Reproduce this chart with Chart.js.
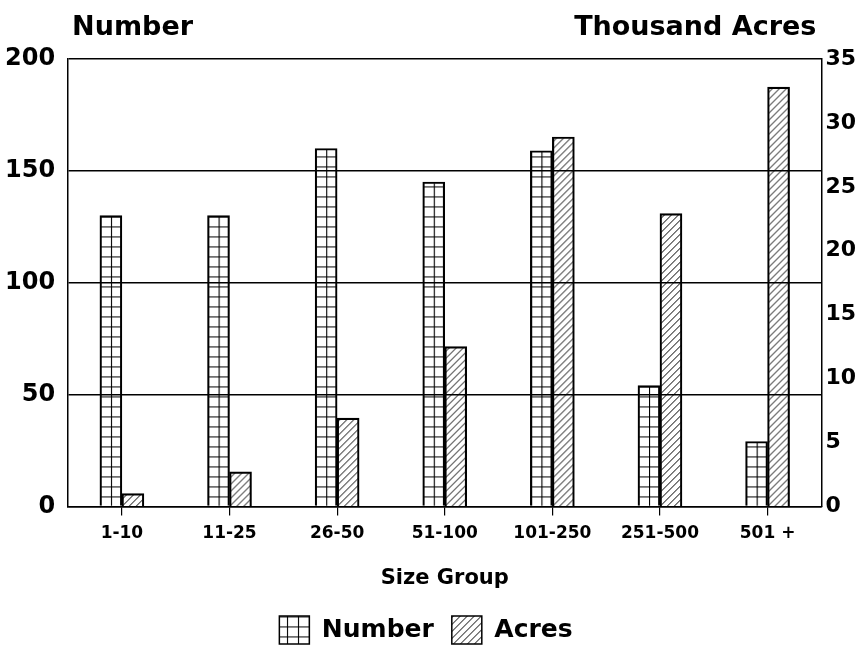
<!DOCTYPE html>
<html>
<head>
<meta charset="utf-8">
<script src="https://cdn.jsdelivr.net/npm/chart.js@4.4.1/dist/chart.umd.min.js"></script>
<style>
  html, body { margin: 0; padding: 0; background: #fff; }
  #wrap { width: 866px; height: 646px; }
</style>
</head>
<body>
<div id="wrap"><canvas id="chartFarms"></canvas></div>
<script>
const sizeGroups = ['1-10', '11-25', '26-50', '51-100', '101-250', '251-500', '501 +'];
const numberFarms = [130, 130, 160, 145, 159, 54, 29];
const thousandAcres = [1.0, 2.7, 6.9, 12.5, 28.9, 22.9, 32.8];
const numberTicks = [0, 50, 100, 150, 200];
const acresTicks = [0, 5, 10, 15, 20, 25, 30, 35];

const FONT = 'DejaVu Sans';
const BAR_W = 22;

// tiles for the two fill patterns
const gridTile = document.createElement('canvas');
gridTile.width = 11; gridTile.height = 10;
(function() {
  const g = gridTile.getContext('2d');
  g.strokeStyle = '#000';
  g.lineWidth = 1.2;
  g.beginPath();
  g.moveTo(0.5, 0); g.lineTo(0.5, 10);
  g.moveTo(0, 0.5); g.lineTo(11, 0.5);
  g.stroke();
})();

const hatchTile = document.createElement('canvas');
hatchTile.width = 7; hatchTile.height = 7;
(function() {
  const g = hatchTile.getContext('2d');
  g.strokeStyle = '#000';
  g.lineWidth = 1;
  g.beginPath();
  g.moveTo(0, 7); g.lineTo(7, 0);
  g.moveTo(-1, 1); g.lineTo(1, -1);
  g.moveTo(6, 8); g.lineTo(8, 6);
  g.stroke();
})();

function patternFor(tile, side) {
  return function(c) {
    const chart = c.chart;
    const pat = chart.ctx.createPattern(tile, 'repeat');
    if (c.type === 'data' && chart.scales.x && chart.chartArea) {
      const cx = chart.scales.x.getPixelForValue(c.dataIndex);
      const left = side === 0 ? cx - BAR_W : cx;
      pat.setTransform(new DOMMatrix().translate(left, chart.chartArea.bottom));
    }
    return pat;
  };
}

const headings = {
  id: 'headings',
  afterDraw(chart) {
    const ctx = chart.ctx;
    const a = chart.chartArea;
    ctx.save();
    ctx.fillStyle = '#000';
    ctx.font = 'bold 27px "' + FONT + '"';
    ctx.textBaseline = 'alphabetic';
    ctx.textAlign = 'left';
    ctx.fillText('Number', a.left + 4, 35);
    ctx.textAlign = 'right';
    ctx.fillText('Thousand Acres', a.right - 5, 35);
    ctx.restore();
  }
};

new Chart(document.getElementById('chartFarms'), {
  type: 'bar',
  data: {
    labels: sizeGroups,
    datasets: [{
      label: 'Number',
      data: numberFarms,
      yAxisID: 'y',
      backgroundColor: patternFor(gridTile, 0),
      borderColor: '#000',
      borderWidth: 1.5,
      barThickness: BAR_W
    }, {
      label: 'Acres',
      data: thousandAcres,
      yAxisID: 'y1',
      backgroundColor: patternFor(hatchTile, 1),
      borderColor: '#000',
      borderWidth: 1.5,
      barThickness: BAR_W
    }]
  },
  options: {
    responsive: true,
    maintainAspectRatio: false,
    animation: false,
    layout: { padding: { left: -8, right: 6, top: 59, bottom: -8 } },
    plugins: {
      tooltip: { enabled: false },
      legend: {
        position: 'bottom',
        labels: {
          color: '#000',
          font: { family: FONT, size: 25, weight: 'bold' },
          boxWidth: 30,
          boxHeight: 28,
          padding: 18
        }
      }
    },
    scales: {
      x: {
        grid: {
          display: true,
          offset: false,
          drawOnChartArea: false,
          drawTicks: true,
          tickLength: 9,
          color: '#000',
          lineWidth: 1.2
        },
        border: { display: true, color: '#000', width: 1.5 },
        ticks: {
          color: '#000',
          padding: 8,
          maxRotation: 0,
          font: { family: FONT, size: 17, weight: 'bold' }
        },
        title: {
          display: true,
          text: 'Size Group',
          color: '#000',
          padding: { top: 14, bottom: 7 },
          font: { family: FONT, size: 21, weight: 'bold' }
        }
      },
      y: {
        position: 'left',
        min: 0,
        max: 200,
        afterBuildTicks(s) { s.ticks = numberTicks.map(v => ({ value: v })); },
        grid: { color: '#000', lineWidth: 1.4, drawTicks: false },
        border: { display: true, color: '#000', width: 1.5 },
        ticks: {
          color: '#000',
          padding: 13,
          font: { family: FONT, size: 24, weight: 'bold' }
        }
      },
      y1: {
        position: 'right',
        min: 0,
        max: 35,
        afterBuildTicks(s) { s.ticks = acresTicks.map(v => ({ value: v })); },
        grid: { drawOnChartArea: false, drawTicks: false },
        border: { display: true, color: '#000', width: 1.5 },
        ticks: {
          color: '#000',
          padding: 4,
          font: { family: FONT, size: 22, weight: 'bold' }
        }
      }
    }
  },
  plugins: [headings]
});
</script>
</body>
</html>
